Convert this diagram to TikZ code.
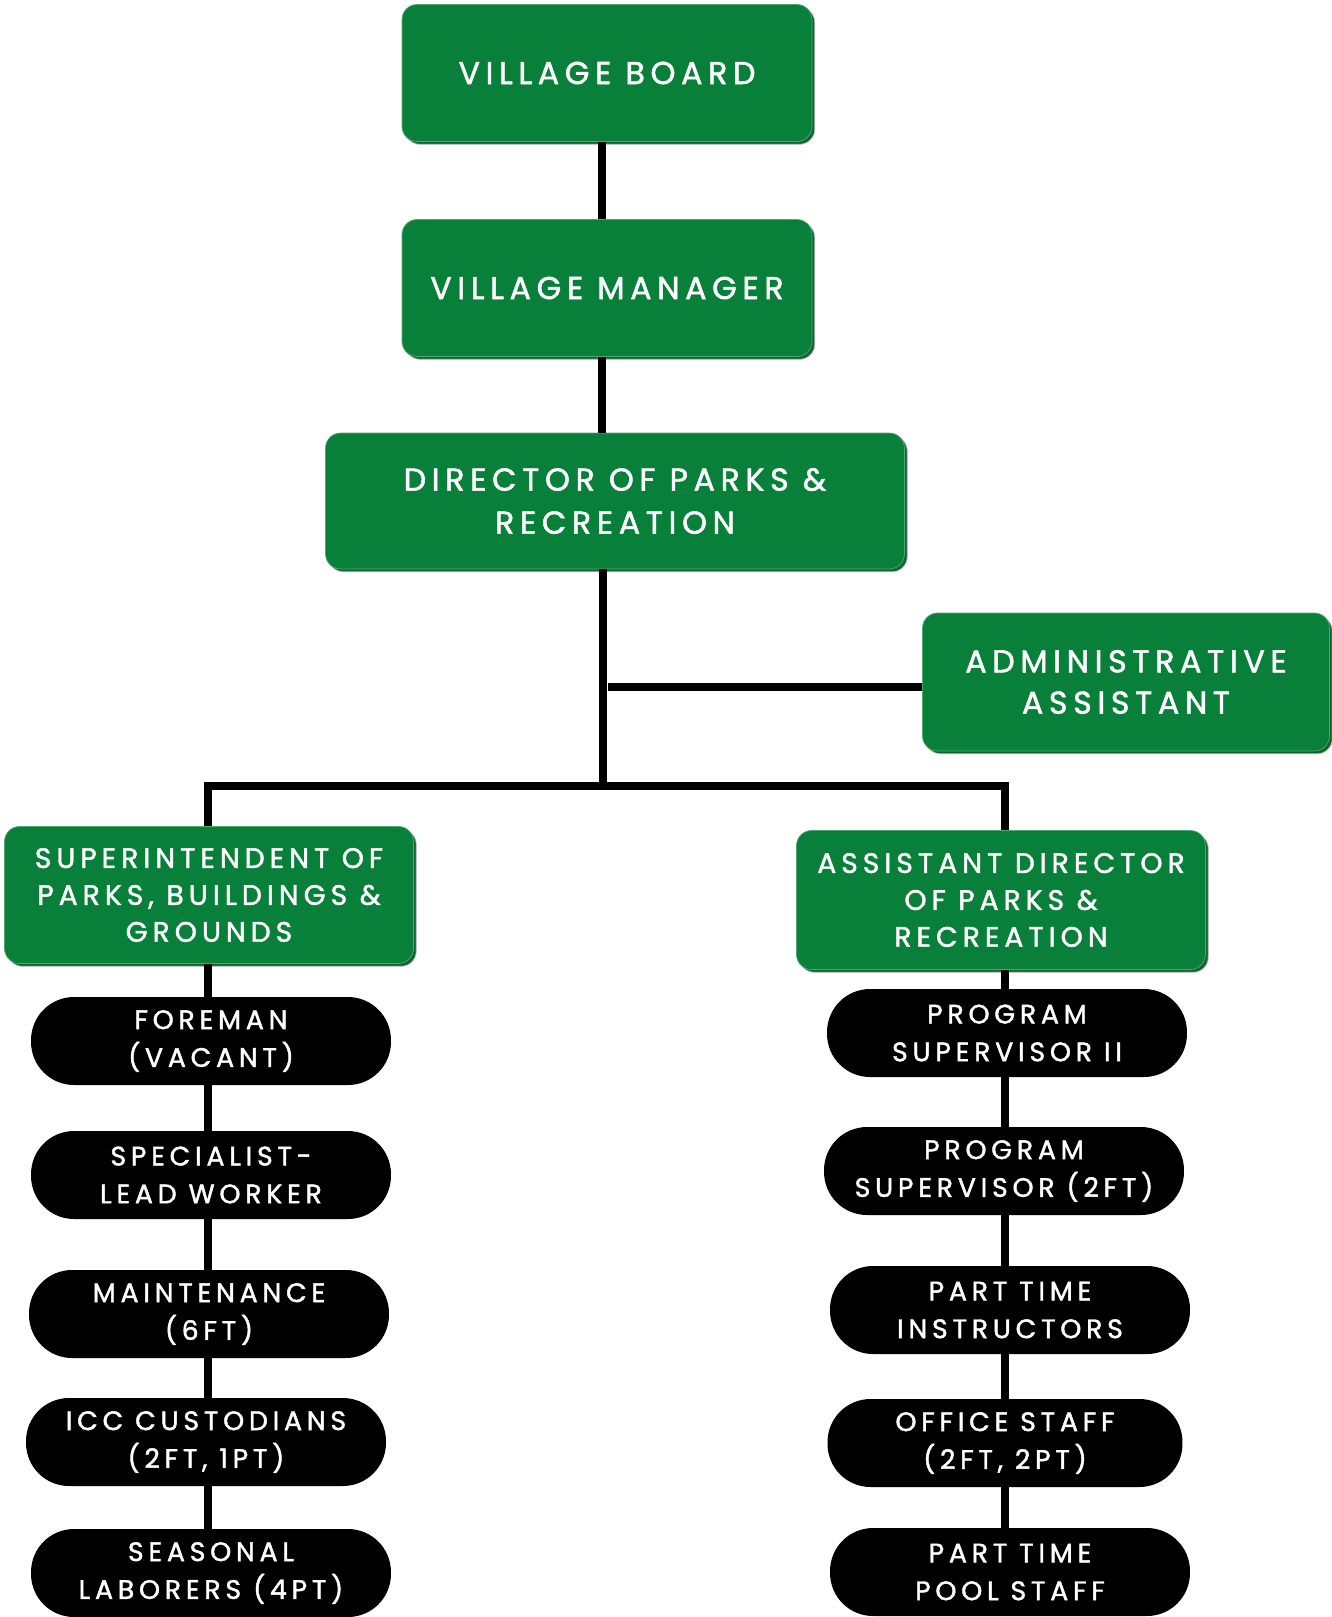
\documentclass[tikz,border=0pt]{standalone}
\usepackage{fontspec}
\setmainfont{Poppins}[LetterSpace=18,FakeBold=1.6]
\usetikzlibrary{positioning,shadows}

\definecolor{parkgreen}{RGB}{8,128,58}
\definecolor{shadegreen}{RGB}{20,100,50}

\tikzset{
  greenbox/.style={draw=parkgreen!70!white,fill=parkgreen,rounded corners=0.3cm,
    text=white,align=center,font=\fontsize{16}{21}\selectfont,
    copy shadow={shadow xshift=1.6pt,shadow yshift=-1.6pt,fill=shadegreen,draw=gray!45}},
  topbox/.style={greenbox,font=\fontsize{18}{24}\selectfont},
  blackpill/.style={fill=black,rounded corners=0.86cm,text=white,align=center,
    minimum width=7.2cm,minimum height=1.76cm,font=\fontsize{15.2}{21.5}\selectfont},
  link/.style={line width=4.4pt,black}
}

\begin{document}
\begin{tikzpicture}[x=0.02cm,y=-0.02cm]

\useasboundingbox (0,0) rectangle (1332,1617);

\def\leftcol{211}
\def\rightcol{1007}

% top of the chart
\node[topbox,minimum width=8.2cm,minimum height=2.74cm] (board) at (607,73) {VILLAGE BOARD};
\node[topbox,minimum width=8.2cm,minimum height=2.74cm] (manager) at (607,288) {VILLAGE MANAGER};
\node[topbox,minimum width=11.58cm,minimum height=2.72cm,font=\fontsize{18}{24.5}\selectfont] (director) at (615,501)
  {DIRECTOR OF PARKS \&\\RECREATION};
\node[topbox,minimum width=8.14cm,minimum height=2.76cm,font=\fontsize{18}{23.5}\selectfont] (admin) at (1126,682)
  {ADMINISTRATIVE\\ASSISTANT};

% two branches
\node[greenbox,minimum width=8.18cm,minimum height=2.74cm] (super) at (209,895)
  {SUPERINTENDENT OF\\PARKS, BUILDINGS \&\\GROUNDS};
\node[greenbox,minimum width=8.18cm,minimum height=2.78cm] (asstdir) at (1001,900)
  {ASSISTANT DIRECTOR\\OF PARKS \&\\RECREATION};

% left column
\node[blackpill] (foreman) at (\leftcol,1041) {FOREMAN\\(VACANT)};
\node[blackpill] (lead) at (\leftcol,1175) {SPECIALIST-\\LEAD WORKER};
\node[blackpill] (maint) at (\leftcol-2,1314) {MAINTENANCE\\(6FT)};
\node[blackpill] (icc) at (\leftcol-5,1442) {ICC CUSTODIANS\\(2FT, 1PT)};
\node[blackpill] (seasonal) at (\leftcol,1573) {SEASONAL\\LABORERS (4PT)};

% right column
\node[blackpill] (progtwo) at (\rightcol,1033) {PROGRAM\\SUPERVISOR II};
\node[blackpill] (prog) at (\rightcol-3,1171) {PROGRAM\\SUPERVISOR (2FT)};
\node[blackpill] (instr) at (\rightcol+3,1310) {PART TIME\\INSTRUCTORS};
\node[blackpill,minimum width=7.1cm] (office) at (\rightcol-2,1443) {OFFICE STAFF\\(2FT, 2PT)};
\node[blackpill] (pool) at (\rightcol+3,1572) {PART TIME\\POOL STAFF};

% connectors
\coordinate (spine) at (602,0);
\coordinate (hub) at (603,786);
\coordinate (adminjoin) at (608,687);
\coordinate (leftline) at (208,0);
\coordinate (rightline) at (1005,0);

\draw[link] (board.south -| spine) -- (manager.north -| spine);
\draw[link] (manager.south -| spine) -- (director.north -| spine);
\draw[link] (director.south -| hub) -- (hub);
\draw[link] (adminjoin) -- (adminjoin -| admin.west);
\draw[link] (super.north -| leftline) |- (hub) -| (asstdir.north -| rightline);

\foreach \a/\b in {super/foreman,foreman/lead,lead/maint,maint/icc,icc/seasonal}
  \draw[link] (\a.south -| leftline) -- (\b.north -| leftline);
\foreach \a/\b in {asstdir/progtwo,progtwo/prog,prog/instr,instr/office,office/pool}
  \draw[link] (\a.south -| rightline) -- (\b.north -| rightline);

\end{tikzpicture}
\end{document}
